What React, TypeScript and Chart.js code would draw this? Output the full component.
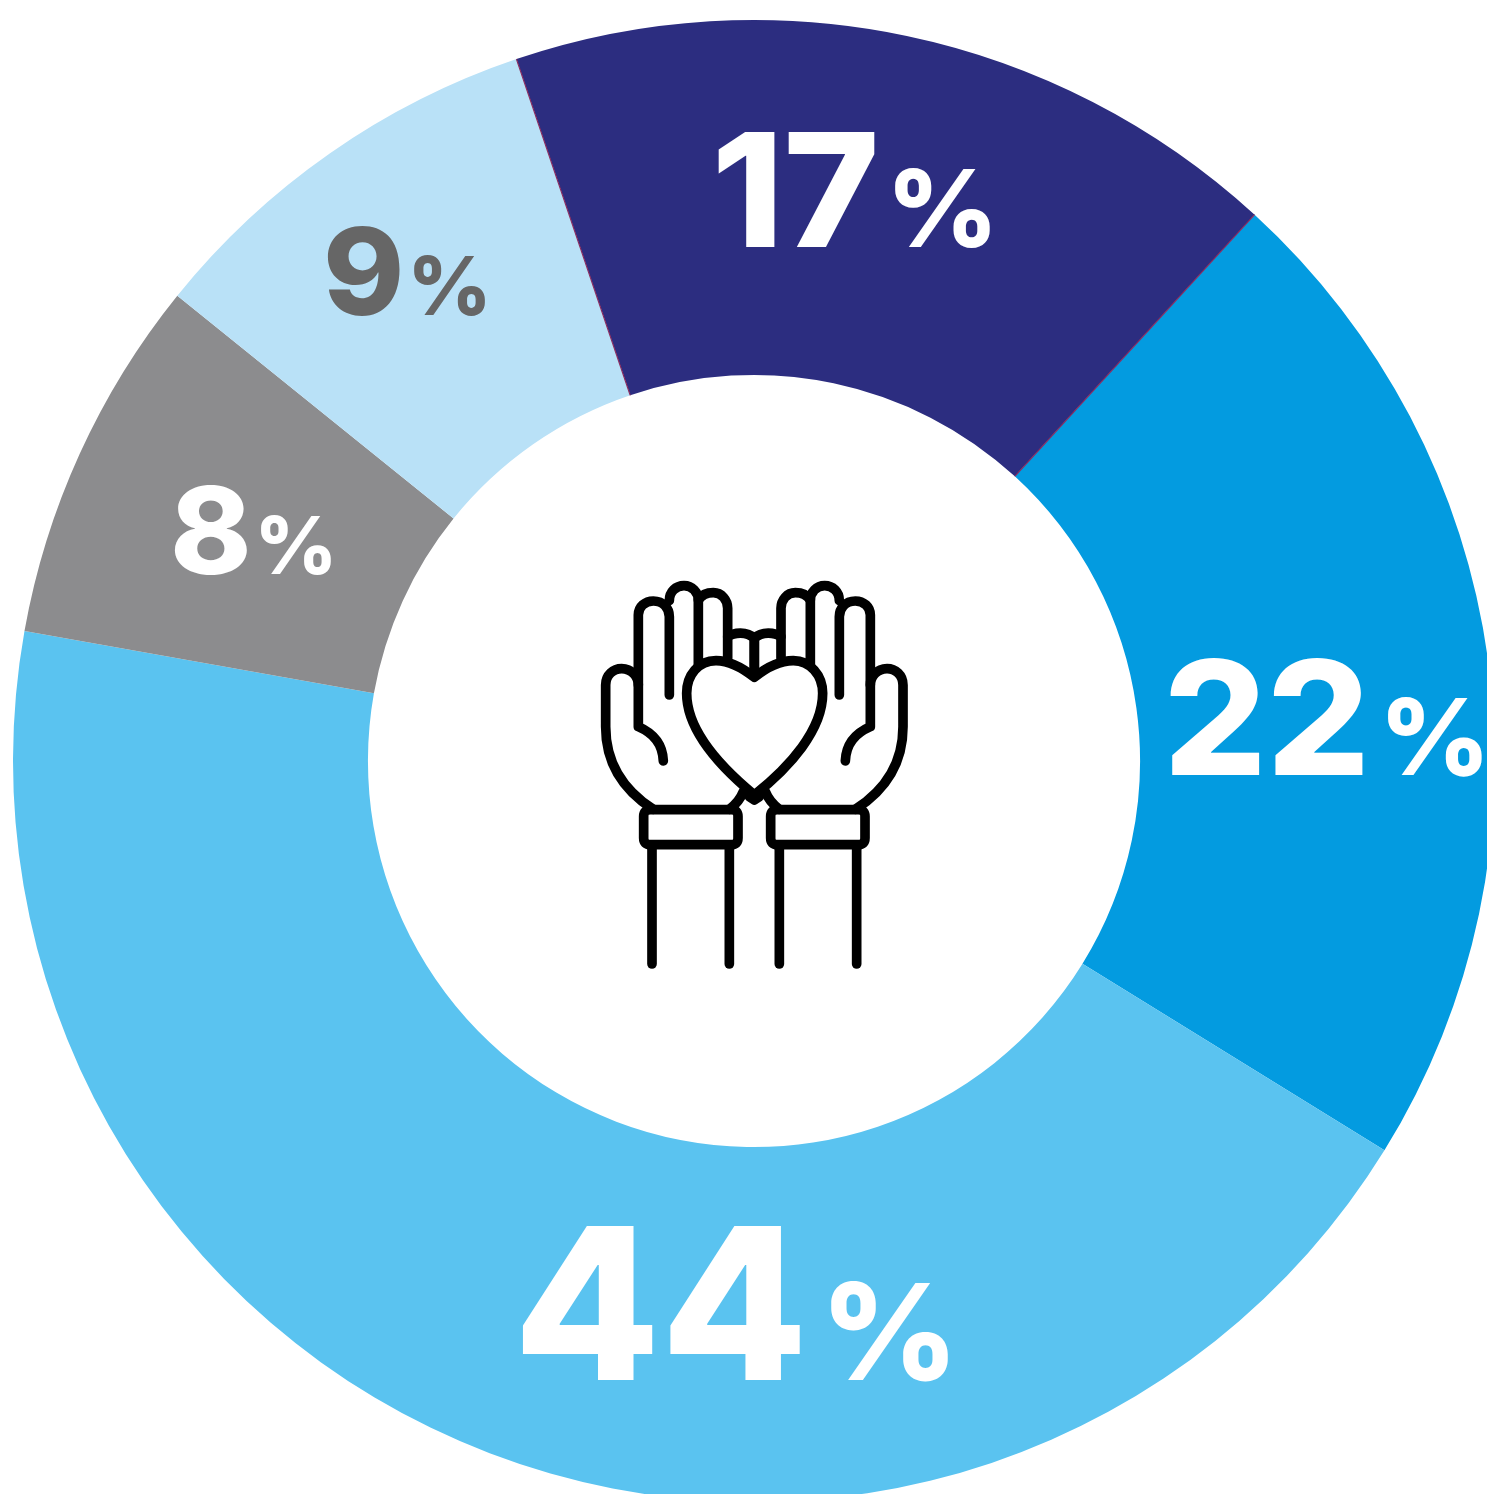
import React, { useEffect, useRef } from "react";
import { Chart, registerables } from "chart.js";

Chart.register(...registerables);

const categories = ["Navy", "Blue", "Sky", "Grey", "Pale"];
const values = [17, 22, 44, 8, 9];
const colors = ["#2C2D80", "#039BE0", "#5AC3F0", "#8C8C8E", "#B9E1F7"];
const textColors = ["#FFFFFF", "#FFFFFF", "#FFFFFF", "#FFFFFF", "#666666"];

// text boxes: digits [left, right, top, baseline], percent [left, right, top, baseline]
const digitBoxes = [
  [718, 875, 132, 247],
  [1170, 1363, 658, 775],
  [523, 800, 1225, 1380],
  [175, 247, 485, 575],
  [328, 400, 225, 316],
];
const percentBoxes = [
  [895, 990, 168, 249],
  [1388, 1482, 697, 777],
  [831, 948, 1281, 1382],
  [261, 331, 515, 575],
  [414, 485, 255, 316],
];

const FONT = '"Inter", "Roboto", "Liberation Sans", sans-serif';

function fitText(ctx: CanvasRenderingContext2D, text: string, box: number[], color: string) {
  ctx.save();
  ctx.font = `800 200px ${FONT}`;
  ctx.textAlign = "left";
  ctx.textBaseline = "alphabetic";
  ctx.fillStyle = color;
  const m = ctx.measureText(text);
  const w = m.actualBoundingBoxRight + m.actualBoundingBoxLeft;
  const h = m.actualBoundingBoxAscent + m.actualBoundingBoxDescent;
  const sx = (box[1] - box[0]) / w;
  const sy = (box[3] - box[2]) / h;
  ctx.translate(box[0] + m.actualBoundingBoxLeft * sx, box[3] - m.actualBoundingBoxDescent * sy);
  ctx.scale(sx, sy);
  ctx.fillText(text, 0, 0);
  ctx.restore();
}

const handPaths = [
  "M190 718 C100 660 47 580 47 470 L47 345 C47 315 70 296 95 296 C125 296 145 320 145 345 L145 470 C190 490 218 520 220 573",
  "M145 345 L145 135 C145 110 165 93 190 93 C220 93 238 115 238 140 L238 375",
  "M238 92 C238 65 258 47 282 47 C306 47 325 65 325 92 L325 290",
  "M325 90 C335 75 350 68 370 68 C395 68 413 90 413 115 L413 265",
  "M413 200 C430 188 470 182 493 205 L493 310",
  "M418 718 C440 702 452 685 460 665",
  "M181 719 L424 719 Q444 719 444 739 L444 804 Q444 824 424 824 L181 824 Q161 824 161 804 L161 739 Q161 719 181 719 Z",
  "M186 825 L186 1182",
  "M418 825 L418 1182",
];
const heartPath =
  "M493 322 C450 288 415 272 378 272 C325 272 290 315 290 370 C290 480 390 590 493 675 C600 590 698 480 698 370 C698 315 660 272 610 272 C572 272 535 288 493 322 Z";

function drawIcon(ctx: CanvasRenderingContext2D) {
  ctx.save();
  ctx.translate(590, 570);
  ctx.scale(1 / 3, 1 / 3);
  ctx.lineWidth = 29;
  ctx.lineCap = "round";
  ctx.lineJoin = "round";
  ctx.strokeStyle = "#000000";
  for (const p of handPaths) ctx.stroke(new Path2D(p));
  ctx.save();
  ctx.translate(986, 0);
  ctx.scale(-1, 1);
  for (const p of handPaths) ctx.stroke(new Path2D(p));
  ctx.restore();
  const heart = new Path2D(heartPath);
  ctx.fillStyle = "#FFFFFF";
  ctx.fill(heart);
  ctx.stroke(heart);
  ctx.stroke(new Path2D("M478 680 L493 690 L508 680"));
  ctx.restore();
}

const overlay = {
  id: "overlay",
  afterDatasetsDraw(chart: any) {
    const ctx: CanvasRenderingContext2D = chart.ctx;
    const arc = chart.getDatasetMeta(0).data[0];
    ctx.save();
    ctx.strokeStyle = "#8A2A5E";
    ctx.lineWidth = 1.2;
    for (const a of [arc.startAngle, arc.endAngle]) {
      ctx.beginPath();
      ctx.moveTo(arc.x + Math.cos(a) * arc.innerRadius, arc.y + Math.sin(a) * arc.innerRadius);
      ctx.lineTo(arc.x + Math.cos(a) * arc.outerRadius, arc.y + Math.sin(a) * arc.outerRadius);
      ctx.stroke();
    }
    ctx.restore();
    values.forEach((v, i) => {
      fitText(ctx, String(v), digitBoxes[i], textColors[i]);
      fitText(ctx, "%", percentBoxes[i], textColors[i]);
    });
    drawIcon(ctx);
  },
};

export default function App() {
  const ref = useRef<HTMLCanvasElement>(null);
  useEffect(() => {
    const chart = new Chart(ref.current as HTMLCanvasElement, {
      type: "doughnut",
      data: {
        labels: categories,
        datasets: [{ data: values, backgroundColor: colors, borderWidth: 0 }],
      },
      options: {
        animation: false,
        responsive: false,
        rotation: -18.7,
        cutout: "52.1%",
        layout: { padding: { left: 13, right: 13, top: 20, bottom: 20 } },
        plugins: { legend: { display: false }, tooltip: { enabled: false } },
      },
      plugins: [overlay],
    } as any);
    return () => chart.destroy();
  }, []);
  return (
    <div style={{ position: "fixed", left: 0, top: 0, width: 1487, height: 1494, overflow: "hidden", background: "#fff" }}>
      <canvas ref={ref} width={1508} height={1522} style={{ display: "block" }} />
    </div>
  );
}
